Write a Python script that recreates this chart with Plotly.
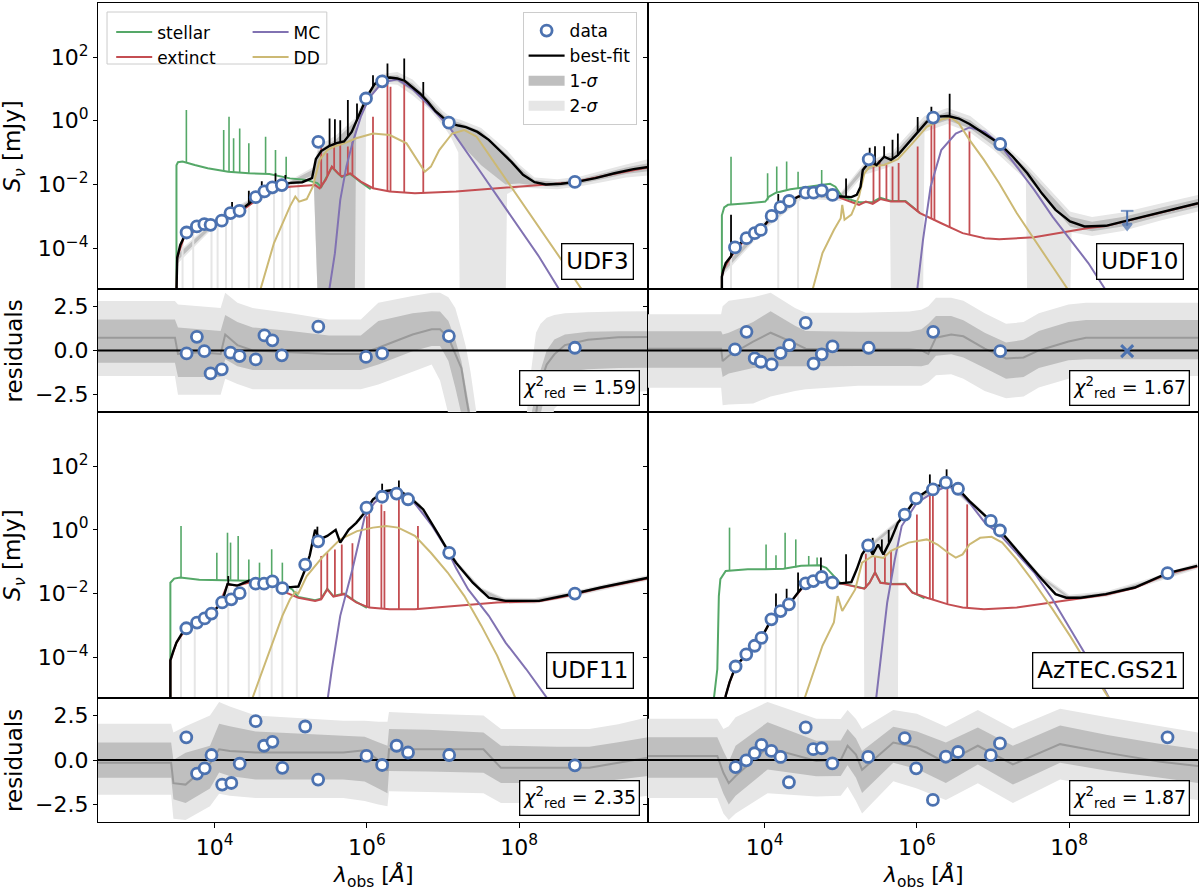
import plotly.graph_objects as go

# every number below is a log10 value (wavelength in Angstrom, flux density in mJy),
# except residuals, which are linear
XLIM = [2.47, 9.69]
YLIM = [-5.28, 3.70]
RLIM = [-3.48, 3.48]

BLUE, GREEN, RED, PURPLE, GOLD = "#4C72B0", "#55A868", "#C44E52", "#8172B2", "#CCB974"
DARK, LIGHT, MID = "#bfbfbf", "#e6e6e6", "#9a9a9a"

# ---------------- UDF3 ----------------
udf3_lam = [3.633, 3.768, 3.866, 3.948, 4.095, 4.209, 4.328, 4.541, 4.655, 4.759, 4.883, 5.362, 5.988, 6.200, 7.076, 8.73]
udf3_flux = [-3.51, -3.32, -3.25, -3.27, -3.14, -2.90, -2.83, -2.40, -2.22, -2.09, -2.02, -0.66, 0.70, 1.24, -0.06, -1.92]
udf3_res = [-0.17, 0.77, -0.04, -1.30, -1.07, -0.13, -0.32, -0.51, 0.85, 0.57, -0.28, 1.34, -0.37, -0.17, 0.81, 0.15]

udf3_fit_lam = [3.50, 3.51, 3.55, 3.60, 3.68, 3.80, 3.95, 4.10, 4.25, 4.40, 4.55, 4.70, 4.85, 5.00, 5.15, 5.28, 5.33,
                5.40, 5.50, 5.60, 5.70, 5.80, 5.90, 6.00, 6.10, 6.20, 6.30, 6.40, 6.50, 6.60, 6.70, 6.80, 6.90, 7.00,
                7.10, 7.20, 7.30, 7.45, 7.60, 7.75, 7.90, 8.05, 8.20, 8.35, 8.55, 8.75, 9.00, 9.25, 9.50, 9.70]
udf3_fit = [-5.4, -4.3, -3.9, -3.65, -3.5, -3.35, -3.25, -3.12, -2.9, -2.7, -2.42, -2.18, -2.02, -1.95, -1.93, -1.8,
            -1.2, -0.95, -0.8, -0.7, -0.65, -0.35, 0.2, 0.75, 1.15, 1.32, 1.36, 1.33, 1.25, 1.05, 0.85, 0.6, 0.3, 0.1,
            -0.08, -0.15, -0.2, -0.35, -0.6, -0.95, -1.3, -1.7, -1.93, -2.0, -1.98, -1.92, -1.8, -1.65, -1.52, -1.45]
udf3_fit_lines = [[4.23, -2.92, -2.55], [4.45, -2.63, -2.2], [4.62, -2.3, -1.9], [4.80, -2.07, -1.65],
                  [4.93, -1.98, -1.7], [5.51, -0.79, 0.07], [5.58, -0.72, 0.05], [5.65, -0.67, 0.02],
                  [5.75, -0.5, 0.65], [5.87, 0.0, 0.54], [6.08, 1.08, 1.43], [6.27, 1.35, 1.80],
                  [6.49, 1.26, 1.96], [6.74, 0.75, 1.22]]
udf3_err_lines = [[3.58, -6, -3.62], [3.72, -6, -3.45], [3.96, -6, -3.25], [4.04, -6, -3.18], [4.15, -6, -3.05],
                  [4.23, -6, -2.92], [4.45, -6, -2.63], [4.56, -6, -2.4], [4.78, -6, -2.1], [4.89, -6, -2.0],
                  [4.99, -6, -1.95], [5.10, -6, -1.94]]
udf3_star_lam = [3.50, 3.50, 3.52, 3.58, 3.74, 3.91, 4.18, 4.45, 4.72, 4.99, 5.21, 5.35, 5.40, 5.54, 5.67, 5.78, 5.92, 6.05]
udf3_star = [-5.4, -1.4, -1.30, -1.28, -1.39, -1.49, -1.60, -1.65, -1.67, -1.81, -1.86, -1.96, -2.08, -1.46, -1.77,
             -1.67, -1.93, -2.15]
udf3_star_lines = [[3.63, -1.32, 0.34], [4.12, -1.58, -0.29], [4.19, -1.6, 0.13], [4.25, -1.61, -0.55],
                   [4.33, -1.62, -0.24], [4.45, -1.65, -0.71], [4.67, -1.67, -0.5], [4.80, -1.7, -0.92],
                   [4.94, -1.78, -1.13]]
udf3_ext_lam = [3.50, 3.51, 3.60, 3.80, 4.10, 4.40, 4.70, 4.99, 5.32, 5.38, 5.46, 5.54, 5.62, 5.67, 5.78, 5.92, 6.08,
                6.30, 6.63, 7.17, 7.71, 8.26, 8.70, 9.20, 9.70]
udf3_ext = [-5.4, -4.3, -3.65, -3.38, -3.15, -2.75, -2.22, -2.07, -2.02, -2.12, -1.85, -1.44, -1.65, -1.75, -1.65,
            -1.91, -2.12, -2.22, -2.28, -2.22, -2.12, -2.02, -1.94, -1.69, -1.46]
udf3_ext_lines = [[5.40, -2.1, -0.81], [5.48, -1.7, -1.02], [5.57, -1.5, -0.71], [5.65, -1.7, -0.71],
                  [5.75, -1.7, -0.81], [5.81, -1.72, -0.66], [6.08, -2.12, 0.13], [6.27, -2.21, 1.28],
                  [6.31, -2.22, 1.07], [6.49, -2.26, 1.22], [6.74, -2.28, 0.70]]
udf3_mc_lam = [5.50, 5.58, 5.65, 5.73, 5.81, 5.92, 6.03, 6.20, 6.40, 6.60, 6.85, 7.08, 7.44, 7.71, 7.99, 8.26, 8.55]
udf3_mc = [-5.4, -4.16, -2.49, -1.44, -0.71, 0.13, 0.72, 1.2, 1.3, 1.0, 0.4, -0.19, -1.43, -2.37, -3.33, -4.27, -5.4]
udf3_dd_lam = [4.59, 4.78, 4.99, 5.06, 5.11, 5.21, 5.29, 5.38, 5.48, 5.57, 5.70, 5.86, 6.08, 6.30, 6.52, 6.63, 6.76,
               6.84, 6.95, 7.12, 7.28, 7.44, 7.71, 7.99, 8.26, 8.53, 8.85]
udf3_dd = [-5.4, -3.84, -2.69, -2.38, -2.54, -2.46, -2.07, -1.23, -0.92, -0.81, -0.71, -0.55, -0.40, -0.45, -0.71,
           -1.13, -1.60, -1.44, -0.92, -0.40, -0.29, -0.50, -1.44, -2.38, -3.32, -4.26, -5.4]
udf3_band_lam = [3.51, 4.0, 4.5, 5.0, 5.30, 5.36, 5.60, 5.84, 5.86, 5.97, 5.99, 6.2, 6.4, 6.6, 6.8, 7.0, 7.1, 7.2,
                 7.22, 7.5, 7.82, 7.84, 8.0, 8.2, 8.5, 8.8, 9.1, 9.4, 9.7]
udf3_s2hi = [-4.15, -3.1, -2.4, -1.85, -1.45, -0.8, -0.45, 0.07, 0.18, 0.73, 0.85, 1.47, 1.53, 1.3, 0.8, 0.3, 0.12,
             0.05, 0.04, -0.23, -0.89, -0.93, -1.37, -1.78, -1.84, -1.75, -1.56, -1.37, -1.2]
udf3_s1hi = [-4.22, -3.15, -2.45, -1.9, -1.52, -0.95, -0.57, -0.03, 0.08, 0.66, 0.78, 1.4, 1.43, 1.17, 0.7, 0.2, 0.02,
             -0.05, -0.06, -0.33, -1.02, -1.06, -1.47, -1.86, -1.92, -1.83, -1.65, -1.47, -1.33]
udf3_s1lo = [-4.4, -3.27, -2.57, -2.0, -1.7, -6, -6, -6, -0.12, 0.5, 0.62, 1.24, 1.23, 0.93, 0.48, -0.05, -0.3, -0.65,
             -0.7, -1.4, -2.0, -2.0, -1.97, -2.03, -2.07, -1.98, -1.83, -1.67, -1.58]
udf3_s2lo = [-4.5, -3.32, -2.62, -2.05, -1.8, -6, -6, -6, -6, -6, 0.55, 1.17, 1.13, 0.8, 0.4, -0.15, -0.5, -1.0, -6,
             -6, -6, -2.3, -2.1, -2.12, -2.15, -2.06, -1.92, -1.78, -1.72]
udf3_rb_lam = [2.47, 3.48, 3.52, 3.8, 4.08, 4.14, 4.3, 4.5, 5.0, 5.5, 5.92, 6.15, 6.6, 6.85, 6.96, 7.07, 7.16, 7.24,
               7.30, 7.36, 7.44, 8.04, 8.16, 8.22, 8.28, 8.36, 8.46, 8.6, 8.9, 9.3, 9.69]
udf3_r2hi = [2.79, 2.79, 2.6, 2.5, 2.4, 3.26, 2.7, 2.4, 2.1, 1.75, 1.75, 2.69, 3.07, 3.26, 3.26, 3.0, 2.4, 1.2, 0.2,
             -1.2, -3.6, -6, -1.0, 1.0, 1.5, 1.85, 2.0, 2.1, 2.15, 2.2, 2.22]
udf3_r1hi = [1.75, 1.75, 1.3, 1.2, 1.1, 2.0, 1.6, 1.3, 1.1, 0.85, 0.85, 1.66, 2.1, 2.22, 2.2, 1.66, 0.6, -0.6, -2.1,
             -3.6, -6, -6, -3.6, -2.3, -1.1, 0.0, 0.62, 0.9, 1.05, 1.09, 1.09]
udf3_rmed = [0.72, 0.72, -0.2, -0.1, -0.2, 0.9, 0.3, 0.0, -0.1, -0.2, -0.2, 0.15, 0.9, 1.19, 1.19, 0.72, -0.2, -1.0,
             -2.6, -4.0, -6, -6, -6, -3.6, -1.8, -0.8, -0.22, 0.3, 0.6, 0.75, 0.76]
udf3_r1lo = [-0.70, -0.70, -1.5, -1.5, -1.5, -0.5, -0.9, -1.1, -1.1, -1.1, -1.1, -0.79, -0.04, 0.25, 0.25, -0.6, -2.1,
             -3.6, -6, -6, -6, -6, -6, -6, -3.6, -2.1, -1.5, -1.2, -1.07, -1.0, -0.98]
udf3_r2lo = [-1.45, -1.45, -2.5, -2.5, -2.5, -1.6, -1.9, -2.2, -2.2, -2.2, -2.2, -1.92, -1.2, -0.79, -1.7, -3.6, -6,
             -6, -6, -6, -6, -6, -6, -6, -6, -6, -3.3, -2.7, -2.5, -2.4, -2.3]

# ---------------- UDF10 ----------------
udf10_lam = [3.612, 3.763, 3.871, 3.951, 4.093, 4.210, 4.323, 4.540, 4.643, 4.751, 4.892, 5.367, 6.214, 7.094]
udf10_flux = [-3.98, -3.69, -3.53, -3.43, -2.99, -2.71, -2.52, -2.26, -2.26, -2.19, -2.33, -1.21, 0.10, -0.73]
udf10_res = [0.06, 1.05, -0.45, -0.64, -0.79, -0.15, 0.30, 1.56, -0.75, -0.22, 0.23, 0.15, 1.05, -0.04]
udf10_ul = [8.76, -2.83, -3.30]      # upper limit: wavelength, top, arrow tip
udf10_ul_res = [8.76, -0.04]

udf10_fit_lam = [3.44, 3.44, 3.46, 3.49, 3.56, 3.61, 3.76, 3.87, 3.97, 4.09, 4.21, 4.32, 4.44, 4.54, 4.75, 4.91, 5.00,
                 5.14, 5.21, 5.26, 5.29, 5.38, 5.47, 5.57, 5.66, 5.75, 5.85, 5.99, 6.13, 6.27, 6.41, 6.55, 6.69, 6.88,
                 7.09, 7.26, 7.45, 7.64, 7.82, 8.01, 8.20, 8.48, 8.77, 9.05, 9.33, 9.69]
udf10_fit = [-5.4, -4.9, -4.68, -4.47, -4.26, -4.0, -3.69, -3.53, -3.37, -3.01, -2.72, -2.52, -2.38, -2.28, -2.19,
             -2.30, -2.38, -2.40, -2.33, -2.07, -1.55, -1.28, -1.39, -1.13, -1.23, -1.08, -0.81, -0.40, -0.03, 0.13,
             0.15, 0.07, -0.10, -0.40, -0.73, -1.13, -1.65, -2.28, -2.80, -3.16, -3.32, -3.30, -3.13, -2.96, -2.78, -2.59]
udf10_fit_lines = [[3.56, -4.26, -2.95], [4.18, -2.8, -2.3], [5.07, -2.39, -1.81], [5.38, -1.28, -0.85],
                   [5.45, -1.37, -0.8], [5.57, -1.13, -0.8], [5.68, -1.2, -0.6], [5.75, -1.08, -0.4],
                   [6.01, -0.37, 0.12], [6.19, 0.05, 0.44], [6.43, 0.15, 0.85]]
udf10_err_lines = [[3.56, -6, -4.2], [4.18, -6, -2.75], [4.44, -6, -2.38]]
udf10_star_lam = [3.44, 3.44, 3.47, 3.52, 3.78, 4.01, 4.06, 4.15, 4.34, 4.53, 4.72, 4.86, 4.93, 5.02, 5.24, 5.42,
                  5.52, 5.66, 5.85, 6.04]
udf10_star = [-5.4, -2.97, -2.72, -2.64, -2.59, -2.54, -2.38, -2.26, -2.15, -2.09, -2.02, -1.98, -2.07, -2.40, -2.56,
              -2.55, -2.42, -2.52, -2.52, -2.90]
udf10_star_lines = [[3.56, -2.62, -1.13], [4.04, -2.5, -1.65], [4.16, -2.25, -1.44], [4.29, -2.17, -1.28],
                    [4.44, -2.12, -1.6], [4.75, -2.01, -1.55]]
udf10_ext_lam = [3.44, 3.44, 3.46, 3.56, 3.76, 3.97, 4.21, 4.44, 4.75, 4.91, 5.00, 5.24, 5.33, 5.42, 5.52, 5.66, 5.85,
                 6.04, 6.32, 6.60, 6.89, 7.08, 7.54, 8.01, 8.25, 8.48, 8.77, 9.05, 9.33, 9.69]
udf10_ext = [-5.4, -4.9, -4.68, -4.26, -3.69, -3.37, -2.72, -2.38, -2.2, -2.32, -2.43, -2.64, -2.54, -2.61, -2.46,
             -2.54, -2.54, -2.90, -3.22, -3.53, -3.69, -3.72, -3.66, -3.48, -3.37, -3.31, -3.14, -2.97, -2.79, -2.60]
udf10_ext_lines = [[5.43, -2.6, -1.33], [5.51, -2.47, -1.23], [5.60, -2.5, -1.39], [5.68, -2.54, -1.44],
                   [5.76, -2.54, -1.33], [6.01, -2.86, -0.81], [6.19, -3.08, -0.08], [6.23, -3.13, 0.02],
                   [6.43, -3.35, 0.13], [6.69, -3.56, -0.34]]
udf10_mc_lam = [6.00, 6.08, 6.18, 6.32, 6.51, 6.69, 6.89, 7.08, 7.31, 7.54, 7.78, 8.01, 8.25, 8.50]
udf10_mc = [-5.4, -3.74, -2.07, -0.92, -0.40, -0.21, -0.34, -0.71, -1.44, -2.17, -3.01, -3.74, -4.47, -5.4]
udf10_dd_lam = [4.62, 4.76, 4.91, 5.00, 5.02, 5.05, 5.14, 5.24, 5.31, 5.38, 5.57, 5.75, 5.94, 6.13, 6.32, 6.44, 6.55,
                6.69, 6.88, 7.08, 7.31, 7.54, 7.78, 8.01]
udf10_dd = [-5.4, -4.16, -3.43, -3.06, -2.64, -3.11, -2.95, -2.38, -1.65, -1.44, -1.39, -1.21, -0.71, -0.19, 0.04,
            0.11, -0.08, -0.60, -1.23, -1.96, -2.90, -3.74, -4.58, -5.4]
udf10_band_lam = [3.46, 4.0, 4.5, 5.0, 5.3, 5.64, 5.66, 6.08, 6.10, 6.4, 6.7, 7.0, 7.43, 7.45, 8.01, 8.03, 8.3, 8.7,
                  9.2, 9.69]
udf10_s2hi = [-4.55, -3.15, -2.2, -2.25, -1.35, -1.0, -1.02, 0.1, 0.15, 0.4, 0.15, -0.42, -1.35, -1.4, -2.85, -2.87,
              -3.02, -2.88, -2.6, -2.33]
udf10_s1hi = [-4.6, -3.2, -2.26, -2.31, -1.43, -1.1, -1.12, -0.03, 0.02, 0.28, 0.02, -0.54, -1.47, -1.52, -3.0, -3.02,
              -3.17, -3.02, -2.73, -2.46]
udf10_s1lo = [-4.76, -3.36, -2.38, -2.45, -1.6, -1.32, -1.34, -0.27, -0.22, 0.02, -0.24, -0.78, -1.73, -1.78, -3.32,
              -3.34, -3.47, -3.32, -3.0, -2.72]
udf10_s2lo = [-4.85, -3.42, -2.44, -2.52, -1.7, -1.45, -6, -6, -0.35, -0.1, -0.37, -0.9, -1.85, -6, -6, -3.5, -3.62,
              -3.46, -3.13, -2.85]
udf10_rb_lam = [2.47, 3.43, 3.45, 3.53, 3.85, 4.08, 4.40, 4.54, 5.23, 5.90, 6.06, 6.15, 6.25, 6.45, 6.61, 6.89, 7.17,
                7.40, 7.60, 7.99, 8.22, 8.60, 9.20, 9.69]
udf10_r2hi = [2.04, 2.04, 2.5, 2.8, 3.0, 3.26, 2.4, 2.13, 2.13, 2.2, 2.3, 2.5, 2.98, 2.98, 2.8, 2.1, 1.5, 1.6, 2.1,
              2.6, 2.69, 2.69, 2.69, 2.69]
udf10_r1hi = [1.09, 1.09, 0.9, 1.0, 1.6, 2.22, 1.4, 1.1, 1.05, 1.05, 1.2, 1.5, 1.94, 1.94, 1.7, 1.0, 0.45, 0.6, 1.1,
              1.6, 1.72, 1.72, 1.72, 1.72]
udf10_rmed = [0.1, 0.1, -0.6, -0.3, 0.5, 1.0, 0.4, 0.1, 0.06, 0.06, 0.0, -0.2, 0.72, 0.9, 0.8, 0.1, -0.45, -0.4, 0.0,
              0.5, 0.72, 0.72, 0.72, 0.72]
udf10_r1lo = [-0.98, -0.98, -1.5, -1.3, -1.0, -0.9, -0.9, -0.9, -0.88, -0.88, -0.9, -0.8, -0.3, -0.22, -0.4, -1.0,
              -1.6, -1.5, -1.0, -0.55, -0.5, -0.5, -0.5, -0.5]
udf10_r2lo = [-2.11, -2.11, -3.1, -3.05, -3.0, -2.6, -2.3, -2.2, -2.0, -2.0, -2.0, -1.8, -1.4, -1.35, -1.6, -2.3,
              -2.7, -2.6, -2.1, -1.6, -1.5, -1.45, -1.45, -1.45]

# ---------------- UDF11 ----------------
udf11_lam = [3.629, 3.77, 3.87, 3.96, 4.10, 4.22, 4.33, 4.54, 4.65, 4.76, 4.89, 5.19, 5.36, 5.995, 6.20, 6.39, 6.54,
             7.08, 8.73]
udf11_flux = [-3.09, -2.91, -2.78, -2.63, -2.28, -2.18, -1.99, -1.69, -1.69, -1.62, -1.83, -1.09, -0.36, 0.70, 1.04,
              1.14, 0.96, -0.72, -2.0]
udf11_res = [1.27, -0.76, -0.47, 0.28, -1.38, -1.29, -0.21, 2.18, 0.80, 1.02, -0.44, 1.88, -1.10, 0.23, -0.28, 0.80,
             0.42, 0.28, -0.30]

udf11_fit_lam = [3.42, 3.42, 3.46, 3.50, 3.58, 3.63, 3.77, 3.87, 3.96, 4.05, 4.12, 4.17, 4.30, 4.45, 4.60, 4.75, 4.85,
                 5.00, 5.10, 5.18, 5.25, 5.32, 5.38, 5.48, 5.59, 5.65, 5.76, 5.86, 5.97, 6.08, 6.25, 6.40, 6.57, 6.74,
                 6.95, 7.08, 7.17, 7.39, 7.60, 7.82, 8.26, 8.50, 8.73, 9.07, 9.40, 9.70]
udf11_fit = [-5.4, -4.1, -3.8, -3.54, -3.22, -3.09, -2.91, -2.78, -2.63, -2.4, -2.1, -1.7, -1.75, -1.6, -1.62, -1.62,
             -1.78, -1.8, -1.78, -1.3, -0.8, 0.0, -0.3, -0.19, 0.0, -0.4, 0.0, 0.22, 0.54, 0.96, 1.22, 1.27, 1.01,
             0.64, -0.19, -0.72, -1.03, -1.66, -2.13, -2.23, -2.23, -2.12, -2.0, -1.81, -1.65, -1.5]
udf11_fit_lines = [[4.18, -1.72, -1.45], [5.35, -0.15, 0.1], [6.20, 1.15, 1.45], [6.42, 1.25, 1.55]]
udf11_err_lines = [[3.56, -6, -3.3], [3.74, -6, -2.95], [4.03, -6, -2.45], [4.18, -6, -1.75], [4.45, -6, -1.6],
                   [4.59, -6, -1.62], [4.75, -6, -1.62], [4.89, -6, -1.78], [5.08, -6, -1.78]]
udf11_star_lam = [3.42, 3.42, 3.47, 3.55, 3.80, 4.02, 4.23, 4.45, 4.72, 4.94, 5.02, 5.10, 5.32, 5.40, 5.48, 5.56,
                  5.70, 5.86, 6.00]
udf11_star = [-5.4, -1.66, -1.53, -1.50, -1.57, -1.58, -1.57, -1.60, -1.64, -1.76, -1.87, -2.11, -2.21, -2.16, -1.85,
              -2.08, -2.0, -2.26, -2.45]
udf11_star_lines = [[3.56, -1.5, 0.12], [4.03, -1.58, -0.72], [4.17, -1.57, -0.09], [4.21, -1.57, -0.4],
                    [4.31, -1.58, -0.19], [4.45, -1.6, -0.93], [4.59, -1.62, -1.03], [4.75, -1.64, -0.61],
                    [4.89, -1.72, -1.03]]
udf11_ext_lam = [3.42, 3.42, 3.50, 3.63, 3.87, 4.05, 4.17, 4.30, 4.54, 4.76, 4.94, 5.10, 5.32, 5.40, 5.48, 5.56, 5.70,
                 5.86, 6.03, 6.30, 6.63, 7.17, 7.71, 8.26, 8.50, 8.73, 9.07, 9.40, 9.70]
udf11_ext = [-5.4, -4.1, -3.54, -3.09, -2.78, -2.4, -1.72, -1.75, -1.61, -1.62, -1.97, -2.13, -2.23, -2.18, -1.87,
             -2.1, -2.02, -2.28, -2.44, -2.49, -2.49, -2.39, -2.28, -2.24, -2.14, -2.02, -1.83, -1.67, -1.52]
udf11_ext_lines = [[5.40, -2.18, -0.82], [5.48, -1.87, -0.72], [5.58, -2.08, -0.62], [5.67, -2.02, -0.46],
                   [5.81, -2.2, -0.42], [6.00, -2.42, 0.43], [6.03, -2.44, 0.64], [6.19, -2.47, 0.80],
                   [6.23, -2.48, 0.59], [6.42, -2.49, 0.96], [6.67, -2.49, 0.12]]
udf11_mc_lam = [5.48, 5.54, 5.65, 5.81, 5.97, 6.10, 6.25, 6.40, 6.60, 6.85, 7.06, 7.17, 7.33, 7.60, 7.82, 8.09, 8.40]
udf11_mc = [-5.4, -4.37, -2.70, -1.24, 0.4, 0.85, 1.15, 1.2, 0.92, 0.15, -0.65, -1.2, -1.87, -2.70, -3.54, -4.37, -5.4]
udf11_dd_lam = [4.48, 4.67, 4.89, 4.99, 5.06, 5.10, 5.21, 5.43, 5.65, 5.87, 6.08, 6.25, 6.41, 6.63, 6.84, 7.06, 7.28,
                7.50, 7.71, 7.97]
udf11_dd = [-5.4, -4.17, -2.70, -2.18, -1.95, -2.0, -1.45, -0.82, -0.30, -0.04, 0.07, 0.12, 0.07, -0.19, -0.72, -1.34,
            -2.08, -3.0, -3.95, -5.4]
udf11_band_lam = [5.90, 6.10, 6.40, 6.70, 7.00, 7.20, 7.50, 7.80, 8.20, 8.70, 9.20, 9.70]
udf11_s2hi = [0.42, 1.08, 1.36, 0.82, -0.31, -1.03, -1.81, -2.13, -2.14, -1.93, -1.66, -1.41]
udf11_s1hi = [0.38, 1.04, 1.32, 0.78, -0.35, -1.07, -1.85, -2.17, -2.18, -1.97, -1.70, -1.45]
udf11_s1lo = [0.28, 0.94, 1.22, 0.68, -0.45, -1.17, -1.95, -2.27, -2.28, -2.07, -1.80, -1.55]
udf11_s2lo = [0.24, 0.90, 1.18, 0.64, -0.49, -1.21, -1.99, -2.31, -2.32, -2.11, -1.84, -1.59]
udf11_rb_lam = [2.47, 3.43, 3.46, 3.62, 3.94, 4.06, 4.20, 4.54, 5.69, 5.97, 6.15, 6.27, 6.29, 6.80, 7.53, 7.76, 8.50,
                8.92, 9.30, 9.69]
udf11_r2hi = [2.03, 2.03, 1.55, 1.9, 2.5, 3.26, 3.0, 2.5, 2.2, 2.2, 2.15, 2.15, 2.69, 2.6, 2.5, 1.74, 1.74, 1.74, 2.0, 2.4]
udf11_r1hi = [0.98, 0.98, 0.0, 0.4, 0.8, 2.03, 1.9, 1.6, 1.36, 1.3, 1.0, 0.8, 1.74, 1.7, 1.55, 0.8, 0.75, 0.75, 1.0, 1.27]
udf11_rmed = [-0.15, -0.15, -1.3, -1.38, -0.2, 0.6, 0.5, 0.42, 0.42, 0.55, 0.0, -0.6, 0.6, 0.6, 0.6, -0.44, -0.44,
              -0.44, -0.15, 0.13]
udf11_r1lo = [-1.0, -1.0, -2.2, -2.42, -1.6, -0.7, -0.9, -1.1, -1.1, -1.2, -1.6, -1.86, -0.62, -0.65, -0.72, -1.29,
              -1.29, -1.29, -1.1, -0.9]
udf11_r2lo = [-1.95, -1.95, -3.3, -3.37, -2.6, -1.9, -2.0, -2.14, -2.14, -2.3, -2.5, -2.6, -1.76, -1.8, -1.86, -2.42,
              -2.42, -2.42, -2.2, -2.0]

# ---------------- AzTEC.GS21 ----------------
gs21_lam = [3.62, 3.76, 3.87, 3.96, 4.09, 4.21, 4.32, 4.54, 4.64, 4.75, 4.89, 5.36, 5.84, 5.99, 6.21, 6.38, 6.54,
            6.97, 7.09, 9.29]
gs21_flux = [-4.29, -3.91, -3.64, -3.39, -2.81, -2.55, -2.34, -1.68, -1.61, -1.48, -1.66, -0.49, 0.48, 0.99, 1.27,
             1.48, 1.29, 0.28, -0.02, -1.36]
gs21_res = [-0.40, -0.02, 0.38, 0.85, 0.51, 0.17, -1.25, 1.83, 0.61, 0.66, -0.19, 0.17, 1.23, -0.47, -2.24, 0.19,
            0.45, 0.27, 0.93, 1.27]

gs21_fit_lam = [3.48, 3.49, 3.54, 3.62, 3.76, 3.87, 3.96, 4.09, 4.21, 4.32, 4.44, 4.54, 4.72, 4.89, 4.99, 5.14, 5.21,
                5.28, 5.36, 5.42, 5.49, 5.56, 5.66, 5.75, 5.84, 5.99, 6.13, 6.27, 6.39, 6.54, 6.69, 6.83, 6.97, 7.09,
                7.26, 7.45, 7.64, 7.82, 7.96, 8.15, 8.48, 8.86, 9.29, 9.68]
gs21_fit = [-5.4, -5.21, -4.79, -4.29, -3.91, -3.64, -3.39, -2.81, -2.55, -2.34, -1.97, -1.68, -1.50, -1.66, -1.68,
            -1.64, -1.24, -0.77, -0.49, -0.77, -0.46, -0.77, -0.30, 0.22, 0.48, 0.99, 1.22, 1.37, 1.46, 1.29, 0.90,
            0.59, 0.28, -0.02, -0.51, -1.03, -1.55, -2.02, -2.13, -2.13, -2.02, -1.81, -1.36, -1.13]
gs21_fit_lines = [[4.15, -2.65, -2.0], [4.29, -2.42, -1.85], [4.44, -1.97, -1.34], [4.74, -1.51, -0.87],
                  [5.07, -1.66, -0.77], [5.42, -0.77, -0.25], [5.54, -0.7, -0.3], [5.63, -0.4, 0.0],
                  [5.78, 0.3, 0.6], [6.17, 1.26, 1.74], [6.39, 1.46, 1.9]]
gs21_err_lines = [[4.01, -6, -3.3], [4.15, -6, -2.65], [4.44, -6, -1.97]]
gs21_star_lam = [3.33, 3.38, 3.40, 3.42, 3.49, 3.78, 4.01, 4.25, 4.48, 4.72, 4.81, 4.91, 4.99, 5.14, 5.31, 5.38, 5.45,
                 5.52, 5.66, 5.85, 5.94, 6.10]
gs21_star = [-5.4, -4.37, -2.08, -1.55, -1.29, -1.24, -1.24, -1.22, -1.13, -1.11, -1.19, -1.45, -1.66, -1.75, -1.84,
             -1.65, -1.33, -1.65, -1.70, -1.69, -1.96, -2.15]
gs21_star_lines = [[3.54, -1.28, 0.07], [4.02, -1.24, -0.46], [4.15, -1.23, -0.8], [4.27, -1.22, -0.09],
                   [4.41, -1.18, -0.30], [4.58, -1.12, -0.82], [4.69, -1.11, -0.87]]
gs21_ext_lam = [3.48, 3.49, 3.54, 3.62, 3.76, 3.96, 4.09, 4.21, 4.32, 4.54, 4.72, 4.89, 4.99, 5.14, 5.31, 5.38, 5.45,
                5.52, 5.66, 5.85, 5.94, 6.13, 6.41, 6.60, 6.88, 7.31, 7.78, 8.15, 8.48, 8.86, 9.29, 9.68]
gs21_ext = [-5.4, -5.21, -4.79, -4.29, -3.91, -3.39, -2.81, -2.55, -2.34, -1.70, -1.52, -1.66, -1.68, -1.76, -1.85,
            -1.66, -1.34, -1.66, -1.71, -1.71, -1.97, -2.13, -2.34, -2.44, -2.49, -2.44, -2.28, -2.16, -2.04, -1.83,
            -1.38, -1.15]
gs21_ext_lines = [[5.33, -1.83, -0.75], [5.45, -1.34, -0.82], [5.58, -1.68, -0.77], [5.66, -1.71, -0.66],
                  [6.00, -2.02, 0.48], [6.17, -2.15, 1.32], [6.21, -2.18, 1.22], [6.40, -2.33, 1.48],
                  [6.66, -2.45, 0.80]]
gs21_mc_lam = [5.46, 5.52, 5.61, 5.71, 5.80, 6.00, 6.20, 6.40, 6.55, 6.70, 6.90, 7.07, 7.31, 7.54, 7.78, 8.01, 8.25, 8.55]
gs21_mc = [-5.4, -4.17, -2.28, -0.93, 0.12, 0.85, 1.15, 1.38, 1.22, 0.82, 0.2, -0.1, -0.72, -1.34, -2.18, -3.12,
           -4.06, -5.4]
gs21_dd_lam = [4.51, 4.63, 4.76, 4.91, 4.96, 5.02, 5.19, 5.28, 5.42, 5.56, 5.66, 5.89, 6.13, 6.27, 6.41, 6.51, 6.60,
               6.69, 6.83, 6.98, 7.12, 7.31, 7.54, 7.78, 8.01, 8.25, 8.55]
gs21_dd = [-5.4, -4.58, -3.64, -2.91, -2.08, -2.55, -1.87, -1.03, -0.82, -0.88, -0.66, -0.40, -0.30, -0.46, -0.72,
           -0.87, -0.77, -0.46, -0.25, -0.22, -0.40, -0.93, -1.66, -2.49, -3.33, -4.27, -5.4]
gs21_band_lam = [5.30, 5.31, 5.75, 5.76, 6.00, 6.40, 6.80, 7.20, 7.60, 8.00, 8.50, 9.00, 9.68]
gs21_s2hi = [-0.6, -0.57, 0.32, 0.35, 1.08, 1.54, 0.75, -0.25, -1.35, -2.04, -1.92, -1.57, -1.03]
gs21_s1hi = [-0.65, -0.62, 0.27, 0.3, 1.04, 1.5, 0.7, -0.3, -1.4, -2.09, -1.97, -1.62, -1.08]
gs21_s1lo = [-0.75, -0.72, 0.17, 0.2, 0.96, 1.4, 0.62, -0.38, -1.48, -2.17, -2.05, -1.70, -1.18]
gs21_s2lo = [-0.8, -6, -6, 0.15, 0.92, 1.36, 0.57, -0.43, -1.53, -2.22, -2.1, -1.75, -1.23]
gs21_rb_lam = [2.47, 3.38, 3.46, 3.53, 3.62, 4.04, 4.68, 5.00, 5.09, 5.20, 5.28, 5.69, 6.00, 6.38, 6.80, 7.26, 7.88,
               8.50, 9.20, 9.69]
gs21_r2hi = [2.31, 2.31, 1.74, 1.9, 2.4, 3.26, 2.31, 2.3, 2.8, 2.3, 1.74, 2.8, 2.6, 1.86, 2.8, 1.76, 2.88, 2.4, 1.9, 1.55]
gs21_r1hi = [1.27, 1.27, 0.5, -0.1, 0.8, 2.12, 1.08, 1.1, 1.74, 1.2, 0.5, 1.86, 1.6, 0.98, 1.83, 0.8, 1.93, 1.4, 0.9, 0.6]
gs21_rmed = [0.23, 0.23, -0.72, -1.3, -0.9, 0.7, -0.06, 0.0, 0.8, 0.3, -0.55, 0.98, 0.7, -0.15, 0.8, -0.25, 0.89,
             0.4, -0.1, -0.34]
gs21_r1lo = [-1.0, -1.0, -1.9, -2.5, -2.0, -0.53, -0.91, -0.9, -0.3, -1.0, -1.85, -0.15, -0.5, -1.29, -0.25, -1.38,
             -0.15, -0.6, -1.0, -1.29]
gs21_r2lo = [-2.14, -2.14, -3.0, -3.37, -3.0, -1.86, -2.05, -2.0, -1.5, -2.3, -3.0, -1.19, -1.6, -2.24, -1.3, -2.42,
             -1.1, -1.6, -2.0, -2.24]

names = ["UDF3", "UDF10", "UDF11", "AzTEC.GS21"]
chi2 = ["1.59", "1.67", "2.35", "1.87"]

y_ticks = [-4, -2, 0, 2]
y_tick_text = ["10<sup>−4</sup>", "10<sup>−2</sup>", "10<sup>0</sup>", "10<sup>2</sup>"]
x_ticks = [4, 6, 8]
x_tick_text = ["10<sup>4</sup>", "10<sup>6</sup>", "10<sup>8</sup>"]
r_ticks = [-2.5, 0.0, 2.5]
r_tick_text = ["−2.5", "0.0", "2.5"]


def lin(v):
    return [10 ** a for a in v]


def segs(rows):
    xs, ys = [], []
    for x, b, t in rows:
        xs += [10 ** x, 10 ** x, None]
        ys += [10 ** b, 10 ** t, None]
    return xs, ys


panels = []
for key in ["udf3", "udf10", "udf11", "gs21"]:
    g = globals()
    p = {k: g[key + "_" + k] for k in
         ["lam", "flux", "res", "fit_lam", "fit", "fit_lines", "err_lines", "star_lam", "star", "star_lines",
          "ext_lam", "ext", "ext_lines", "mc_lam", "mc", "dd_lam", "dd", "band_lam", "s2hi", "s1hi", "s1lo",
          "s2lo", "rb_lam", "r2hi", "r1hi", "rmed", "r1lo", "r2lo"]}
    panels.append(p)

fig = go.Figure()


def sfx(n):
    return "" if n == 1 else str(n)


def add(tr):
    tr.update(hoverinfo="skip")
    if tr.showlegend is None:
        tr.update(showlegend=False)
    fig.add_trace(tr)


for i, p in enumerate(panels):
    first = i == 0
    xm, ym = "x" + sfx(i + 1), "y" + sfx(i + 1)
    xr, yr = "x" + sfx(i + 5), "y" + sfx(i + 5)
    bl = p["band_lam"]
    add(go.Scatter(x=lin(bl + bl[::-1]), y=lin(p["s2lo"] + p["s2hi"][::-1]), fill="toself", fillcolor=LIGHT,
                   mode="none", xaxis=xm, yaxis=ym))
    add(go.Scatter(x=lin(bl + bl[::-1]), y=lin(p["s1lo"] + p["s1hi"][::-1]), fill="toself", fillcolor=DARK,
                   mode="none", xaxis=xm, yaxis=ym))
    ex, ey = segs(p["err_lines"])
    add(go.Scatter(x=ex, y=ey, mode="lines", line=dict(color=LIGHT, width=2), xaxis=xm, yaxis=ym))

    add(go.Scatter(x=lin(p["star_lam"]), y=lin(p["star"]), mode="lines", line=dict(color=GREEN, width=2),
                   xaxis=xm, yaxis=ym, name="stellar", legend="legend", showlegend=first))
    sx, sy = segs(p["star_lines"])
    add(go.Scatter(x=sx, y=sy, mode="lines", line=dict(color=GREEN, width=1.6), xaxis=xm, yaxis=ym))
    add(go.Scatter(x=lin(p["ext_lam"]), y=lin(p["ext"]), mode="lines", line=dict(color=RED, width=2),
                   xaxis=xm, yaxis=ym, name="extinct", legend="legend", showlegend=first))
    rx, ry = segs(p["ext_lines"])
    add(go.Scatter(x=rx, y=ry, mode="lines", line=dict(color=RED, width=1.8), xaxis=xm, yaxis=ym))
    add(go.Scatter(x=lin(p["mc_lam"]), y=lin(p["mc"]), mode="lines", line=dict(color=PURPLE, width=2),
                   xaxis=xm, yaxis=ym, name="MC", legend="legend3", showlegend=first))
    add(go.Scatter(x=lin(p["dd_lam"]), y=lin(p["dd"]), mode="lines", line=dict(color=GOLD, width=2),
                   xaxis=xm, yaxis=ym, name="DD", legend="legend3", showlegend=first))
    add(go.Scatter(x=lin(p["fit_lam"]), y=lin(p["fit"]), mode="lines", line=dict(color="black", width=2.4),
                   xaxis=xm, yaxis=ym, name="best-fit", legend="legend2", legendrank=2, showlegend=first))
    fx, fy = segs(p["fit_lines"])
    add(go.Scatter(x=fx, y=fy, mode="lines", line=dict(color="black", width=1.8), xaxis=xm, yaxis=ym))
    add(go.Scatter(x=lin(p["lam"]), y=lin(p["flux"]), mode="markers",
                   marker=dict(size=11, color="white", line=dict(color=BLUE, width=2.8)),
                   xaxis=xm, yaxis=ym, name="data", legend="legend2", legendrank=1, showlegend=first))

    # residual panel
    rb = p["rb_lam"]
    add(go.Scatter(x=lin(rb + rb[::-1]), y=p["r2lo"] + p["r2hi"][::-1], fill="toself", fillcolor=LIGHT,
                   mode="none", xaxis=xr, yaxis=yr))
    add(go.Scatter(x=lin(rb + rb[::-1]), y=p["r1lo"] + p["r1hi"][::-1], fill="toself", fillcolor=DARK,
                   mode="none", xaxis=xr, yaxis=yr))
    add(go.Scatter(x=lin(rb), y=p["rmed"], mode="lines", line=dict(color=MID, width=2), xaxis=xr, yaxis=yr))
    add(go.Scatter(x=lin(XLIM), y=[0, 0], mode="lines", line=dict(color="black", width=2), xaxis=xr, yaxis=yr))
    add(go.Scatter(x=lin(p["lam"]), y=p["res"], mode="markers",
                   marker=dict(size=11, color="white", line=dict(color=BLUE, width=2.8)), xaxis=xr, yaxis=yr))

# legend patches for the confidence bands
for label, colour, rank in [("1-<i>σ</i>", DARK, 3), ("2-<i>σ</i>", LIGHT, 4)]:
    add(go.Scatter(x=[None], y=[None], mode="lines", line=dict(color=colour, width=14), name=label,
                   legend="legend2", legendrank=rank, showlegend=True))

# UDF10 upper limit and its residual
add(go.Scatter(x=[10 ** udf10_ul[0]] * 2, y=[10 ** udf10_ul[1], 10 ** udf10_ul[2]], mode="lines+markers",
               line=dict(color=BLUE, width=2),
               marker=dict(symbol=["line-ew", "triangle-down"], size=[9, 8], color=BLUE,
                           line=dict(color=BLUE, width=2)), xaxis="x2", yaxis="y2"))
add(go.Scatter(x=[10 ** udf10_ul_res[0]], y=[udf10_ul_res[1]], mode="markers",
               marker=dict(symbol="x-thin", size=12, line=dict(color=BLUE, width=3)), xaxis="x6", yaxis="y6"))

XD = [[0.0, 0.5], [0.5, 1.0]]
YM = [[0.651, 1.0], [0.1514, 0.5006]]
YR = [[0.5006, 0.651], [0.0, 0.1514]]
frame = dict(showline=True, mirror=True, linecolor="black", linewidth=1.2, showgrid=False, zeroline=False,
             tickcolor="black", tickwidth=1.2)
layout = dict(width=1200, height=891, margin=dict(l=98, r=2, t=3, b=69), plot_bgcolor="white",
              paper_bgcolor="white", font=dict(family="DejaVu Sans", size=22, color="black"))
for i in range(4):
    col, row = i % 2, i // 2
    m, r = i + 1, i + 5
    layout["xaxis" + sfx(m)] = dict(domain=XD[col], type="log", range=XLIM, anchor="y" + sfx(m),
                                    showticklabels=False, ticks="", **frame)
    layout["yaxis" + sfx(m)] = dict(domain=YM[row], type="log", range=YLIM, anchor="x" + sfx(m),
                                    tickvals=lin(y_ticks), ticktext=y_tick_text, showticklabels=col == 0,
                                    ticks="outside", ticklen=4, **frame)
    layout["xaxis" + sfx(r)] = dict(domain=XD[col], type="log", range=XLIM, anchor="y" + sfx(r),
                                    tickvals=lin(x_ticks), ticktext=x_tick_text, showticklabels=row == 1,
                                    ticks="outside" if row == 1 else "", ticklen=5, **frame)
    layout["yaxis" + sfx(r)] = dict(domain=YR[row], range=RLIM, anchor="x" + sfx(r), tickvals=r_ticks,
                                    ticktext=r_tick_text, showticklabels=col == 0, ticks="outside", ticklen=4,
                                    **frame)

ann = []
for i in range(4):
    m, r = i + 1, i + 5
    ann.append(dict(text=names[i], xref="x" + sfx(m) + " domain", yref="y" + sfx(m) + " domain", x=0.975, y=0.03,
                    xanchor="right", yanchor="bottom", showarrow=False, font=dict(size=23),
                    bgcolor="white", bordercolor="black", borderwidth=1.3, borderpad=4))
    ann.append(dict(text="<i>χ</i><sup>2</sup><sub>red</sub> = " + chi2[i], xref="x" + sfx(r) + " domain",
                    yref="y" + sfx(r) + " domain", x=0.985, y=0.05, xanchor="right", yanchor="bottom",
                    showarrow=False, font=dict(size=19), bgcolor="white", bordercolor="black",
                    borderwidth=1.3, borderpad=3))
for ax_id in ["y", "y3"]:
    ann.append(dict(text="<i>S</i><sub><i>ν</i></sub> [mJy]", xref="paper", yref=ax_id + " domain", x=-0.0764,
                    y=0.5, xanchor="center", yanchor="middle", textangle=-90, showarrow=False, font=dict(size=23)))
for ax_id in ["y5", "y7"]:
    ann.append(dict(text="residuals", xref="paper", yref=ax_id + " domain", x=-0.0764, y=0.5,
                    xanchor="center", yanchor="middle", textangle=-90, showarrow=False, font=dict(size=23)))
for ax_id in ["x7", "x8"]:
    ann.append(dict(text="<i>λ</i><sub>obs</sub> [<i>Å</i>]", xref=ax_id + " domain", yref="paper", x=0.5,
                    y=-0.066, xanchor="center", yanchor="middle", showarrow=False, font=dict(size=22)))
layout["annotations"] = ann

layout["shapes"] = [dict(type="rect", xref="paper", yref="paper", x0=0.0082, x1=0.208, y0=0.9255, y1=0.989,
                         fillcolor="rgba(255,255,255,0.85)", line=dict(color="#cccccc", width=1), layer="above")]
leg = dict(font=dict(size=17), bgcolor="rgba(0,0,0,0)", borderwidth=0, yanchor="top", xanchor="left",
           tracegroupgap=0, itemwidth=36)
layout["legend"] = dict(x=0.012, y=0.986, **leg)
layout["legend3"] = dict(x=0.136, y=0.986, **leg)
layout["legend2"] = dict(x=0.386, y=0.989, yanchor="top", xanchor="left", font=dict(size=17),
                         bgcolor="rgba(255,255,255,0.85)", bordercolor="#cccccc", borderwidth=1,
                         tracegroupgap=0, itemwidth=36)

fig.update_layout(**layout)
fig.write_html("out.html", config={"displayModeBar": False},
               post_script="document.body.style.margin='0';document.body.style.overflow='hidden';")
